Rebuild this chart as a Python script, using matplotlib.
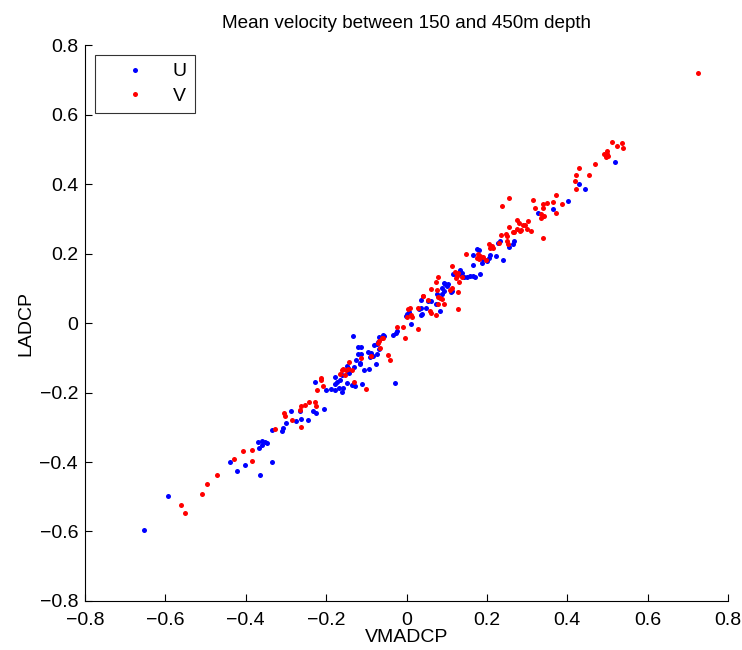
import matplotlib
matplotlib.use('Agg')
import matplotlib.pyplot as plt

plt.rcParams['font.family'] = ['Liberation Sans', 'DejaVu Sans']

# U component: VMADCP vs LADCP
u_vmadcp = [-0.653, -0.594, -0.422, -0.440, -0.402, -0.365, -0.336, -0.369, -0.359, -0.353,
            -0.348, -0.359, -0.368, -0.334, -0.310, -0.307, -0.300, -0.288, -0.274, -0.263,
            -0.246, -0.265, -0.233, -0.225, -0.205, -0.228, -0.200, -0.188, -0.178, -0.167,
            -0.161, -0.159, -0.178, -0.160, -0.165, -0.172, -0.177, -0.149, -0.135, -0.128,
            -0.112, -0.029, -0.146, -0.144, -0.149, -0.145, -0.131, -0.107, -0.094, -0.076,
            -0.126, -0.116, -0.117, -0.122, -0.113, -0.095, -0.089, -0.091, -0.083, -0.073,
            -0.132, -0.120, -0.114, -0.080, -0.074, -0.070, -0.068, -0.066, -0.058, -0.055,
            -0.069, -0.034, -0.027, -0.024, 0.002, 0.005, -0.001, 0.010, 0.036, 0.039,
            0.031, 0.035, 0.049, 0.054, 0.060, 0.083, 0.073, 0.035, 0.075, 0.088,
            0.092, 0.110, 0.088, 0.092, 0.096, 0.100, 0.104, 0.112, 0.116, 0.121,
            0.131, 0.133, 0.137, 0.144, 0.150, 0.158, 0.166, 0.183, 0.170, 0.166,
            0.175, 0.180, 0.166, 0.187, 0.191, 0.200, 0.208, 0.206, 0.223, 0.241,
            0.228, 0.233, 0.254, 0.267, 0.266, 0.328, 0.364, 0.402, 0.430, 0.444,
            0.518]
u_ladcp = [-0.597, -0.499, -0.426, -0.401, -0.410, -0.436, -0.400, -0.341, -0.339, -0.343,
           -0.345, -0.352, -0.361, -0.309, -0.310, -0.302, -0.289, -0.254, -0.282, -0.275,
           -0.279, -0.253, -0.252, -0.259, -0.248, -0.170, -0.192, -0.190, -0.193, -0.186,
           -0.198, -0.188, -0.156, -0.151, -0.165, -0.169, -0.175, -0.174, -0.179, -0.182,
           -0.176, -0.174, -0.141, -0.144, -0.124, -0.129, -0.127, -0.136, -0.131, -0.119,
           -0.105, -0.114, -0.119, -0.088, -0.090, -0.084, -0.086, -0.097, -0.095, -0.090,
           -0.037, -0.069, -0.068, -0.064, -0.060, -0.054, -0.040, -0.044, -0.035, -0.037,
           -0.076, -0.035, -0.028, -0.023, 0.027, 0.032, 0.020, -0.004, 0.023, 0.025,
           0.039, 0.044, 0.044, 0.063, 0.063, 0.035, 0.056, 0.066, 0.083, 0.084,
           0.092, 0.090, 0.102, 0.114, 0.112, 0.107, 0.113, 0.092, 0.140, 0.142,
           0.142, 0.153, 0.145, 0.131, 0.131, 0.135, 0.135, 0.142, 0.131, 0.166,
           0.212, 0.209, 0.196, 0.174, 0.184, 0.179, 0.196, 0.188, 0.193, 0.181,
           0.231, 0.236, 0.220, 0.236, 0.227, 0.318, 0.327, 0.352, 0.400, 0.387,
           0.464]

# V component
v_vmadcp = [-0.562, -0.552, -0.510, -0.496, -0.472, -0.430, -0.407, -0.384, -0.385, -0.328,
            -0.304, -0.302, -0.285, -0.263, -0.262, -0.265, -0.252, -0.243, -0.229, -0.226,
            -0.223, -0.213, -0.213, -0.209, -0.165, -0.154, -0.157, -0.160, -0.150, -0.146,
            -0.136, -0.142, -0.131, -0.102, -0.114, -0.089, -0.047, -0.041, -0.072, -0.069,
            -0.061, -0.058, -0.065, -0.023, -0.008, -0.005, 0.009, 0.004, 0.011, 0.014,
            0.000, 0.029, 0.028, 0.040, 0.053, 0.058, 0.061, 0.073, 0.079, 0.083,
            0.088, 0.079, 0.094, 0.129, 0.129, 0.078, 0.073, 0.061, 0.077, 0.042,
            0.112, 0.121, 0.125, 0.129, 0.125, 0.123, 0.137, 0.131, 0.112, 0.108,
            0.148, 0.179, 0.183, 0.181, 0.190, 0.175, 0.197, 0.206, 0.212, 0.216,
            0.208, 0.230, 0.235, 0.247, 0.249, 0.264, 0.282, 0.253, 0.250, 0.255,
            0.267, 0.275, 0.286, 0.274, 0.280, 0.301, 0.295, 0.291, 0.300, 0.309,
            0.340, 0.335, 0.340, 0.334, 0.342, 0.314, 0.320, 0.254, 0.238, 0.340,
            0.340, 0.350, 0.364, 0.371, 0.386, 0.373, 0.422, 0.419, 0.421, 0.430,
            0.454, 0.469, 0.492, 0.498, 0.496, 0.499, 0.501, 0.512, 0.523, 0.536,
            0.539, 0.725]
v_ladcp = [-0.524, -0.548, -0.491, -0.462, -0.437, -0.391, -0.369, -0.366, -0.396, -0.305,
           -0.260, -0.268, -0.280, -0.298, -0.240, -0.249, -0.236, -0.227, -0.227, -0.240,
           -0.192, -0.159, -0.165, -0.182, -0.148, -0.151, -0.131, -0.135, -0.135, -0.131,
           -0.135, -0.112, -0.170, -0.189, -0.101, -0.095, -0.093, -0.107, -0.057, -0.052,
           -0.044, -0.042, -0.071, -0.012, -0.012, -0.042, 0.044, 0.040, 0.022, 0.018,
           0.017, -0.016, 0.042, 0.078, 0.065, 0.035, 0.029, 0.023, 0.075, 0.073,
           0.068, 0.054, 0.056, 0.041, 0.090, 0.132, 0.118, 0.099, 0.094, 0.079,
           0.164, 0.148, 0.142, 0.145, 0.135, 0.129, 0.131, 0.119, 0.102, 0.094,
           0.198, 0.200, 0.193, 0.184, 0.190, 0.186, 0.181, 0.227, 0.222, 0.217,
           0.217, 0.231, 0.254, 0.257, 0.251, 0.262, 0.265, 0.227, 0.235, 0.275,
           0.262, 0.272, 0.268, 0.296, 0.289, 0.294, 0.282, 0.282, 0.270, 0.265,
           0.245, 0.313, 0.307, 0.302, 0.307, 0.355, 0.330, 0.359, 0.336, 0.342,
           0.332, 0.346, 0.348, 0.368, 0.343, 0.316, 0.386, 0.409, 0.426, 0.445,
           0.427, 0.459, 0.486, 0.486, 0.478, 0.494, 0.482, 0.522, 0.510, 0.518,
           0.505, 0.720]

ticks = [-0.8, -0.6, -0.4, -0.2, 0, 0.2, 0.4, 0.6, 0.8]
tick_labels = ['\u22120.8', '\u22120.6', '\u22120.4', '\u22120.2', '0', '0.2', '0.4', '0.6', '0.8']

fig = plt.figure(figsize=(7.42, 6.5), dpi=100)
ax = fig.add_axes([0.1146, 0.0754, 0.8666, 0.8553])

ax.plot(u_vmadcp, u_ladcp, 'o', color='#0000ff', ms=3.6, mec='none', label='U')
ax.plot(v_vmadcp, v_ladcp, 'o', color='#ff0000', ms=3.6, mec='none', label='V')

ax.set_xlim(-0.8, 0.8)
ax.set_ylim(-0.8, 0.8)
ax.set_xticks(ticks)
ax.set_xticklabels(tick_labels)
ax.set_yticks(ticks)
ax.set_yticklabels(tick_labels)
ax.tick_params(direction='in', length=5, width=0.8, labelsize=14)
ax.tick_params(axis='x', pad=8)
ax.tick_params(axis='y', pad=5)
ax.spines['top'].set_visible(False)
ax.spines['right'].set_visible(False)
for s in ['left', 'bottom']:
    ax.spines[s].set_linewidth(0.8)

ax.set_xlabel('VMADCP', fontsize=14, labelpad=0)
ax.set_ylabel('LADCP', fontsize=14, labelpad=4)
ax.set_title('Mean velocity between 150 and 450m depth', fontsize=13.6, pad=12)

leg = ax.legend(loc='upper left', bbox_to_anchor=(0.0156, 0.982), borderaxespad=0,
                fancybox=False, frameon=True, fontsize=14, handlelength=3.3,
                handletextpad=0.3, labelspacing=0.35, borderpad=0.4)
leg.get_frame().set_edgecolor('black')
leg.get_frame().set_linewidth(0.8)

fig.savefig('out.png', dpi=100)
